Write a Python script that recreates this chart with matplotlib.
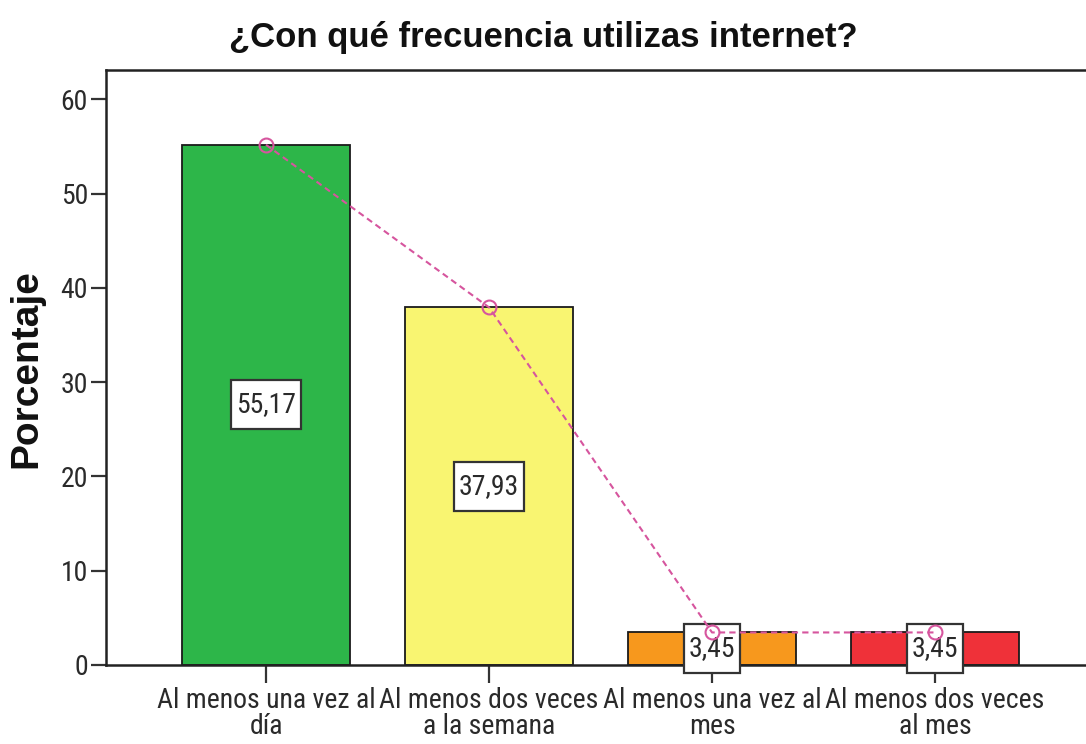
import matplotlib
matplotlib.use("Agg")
import matplotlib.pyplot as plt
from matplotlib import font_manager

categories = ["Al menos una vez al\ndía", "Al menos dos veces\na la semana",
              "Al menos una vez al\nmes", "Al menos dos veces\nal mes"]
values = [55.17, 37.93, 3.45, 3.45]
value_labels = ["55,17", "37,93", "3,45", "3,45"]
colors = ["#2db649", "#f9f571", "#f7981d", "#ef3139"]
yticks = [0, 10, 20, 30, 40, 50, 60]

avail = {f.name for f in font_manager.fontManager.ttflist}
narrow = [f for f in ["Liberation Sans Narrow", "Roboto Condensed", "DejaVu Sans Condensed", "Liberation Sans"] if f in avail] + ["DejaVu Sans"]
bold = [f for f in ["Liberation Sans", "Arial"] if f in avail] + ["DejaVu Sans"]

fig = plt.figure(figsize=(10.86, 7.44), dpi=100)
ax = fig.add_axes([0.0976, 0.1062, 0.9098, 0.7997])

x = list(range(len(categories)))
ax.bar(x, values, width=0.75, color=colors, edgecolor="#1a1a1a", linewidth=1.3, zorder=2)
ax.plot(x, values, linestyle=(0, (3, 2)), color="#d6559e", linewidth=1.5, zorder=4,
        marker="o", markersize=10, markerfacecolor="none", markeredgecolor="#d6559e",
        markeredgewidth=1.5)

for xi, v, lab in zip(x, values, value_labels):
    ax.text(xi, v / 2, lab, ha="center", va="center", fontsize=20, family=narrow,
            color="#2a2a2a", zorder=3,
            bbox=dict(boxstyle="square,pad=0.18", facecolor="white", edgecolor="#333333",
                      linewidth=1.6, mutation_aspect=2.2))

ax.set_xlim(-0.7175, 3.713)
ax.set_ylim(0, 63.1)
ax.set_yticks(yticks)
ax.set_yticklabels([str(t) for t in yticks], fontsize=20, family=narrow, color="#2a2a2a")
ax.set_xticks(x)
ax.set_xticklabels(categories, fontsize=20, family=narrow, color="#2a2a2a", linespacing=0.95)
ax.tick_params(axis="y", direction="out", length=11, width=1.6, pad=2, color="#333333")
ax.tick_params(axis="x", direction="out", length=13, width=1.6, pad=3, color="#333333")
for s in ["left", "bottom", "top"]:
    ax.spines[s].set_linewidth(1.8)
    ax.spines[s].set_color("#222222")
ax.spines["right"].set_visible(False)

fig.text(0.5, 0.949, "¿Con qué frecuencia utilizas internet?", ha="center", va="center",
         fontsize=25, fontweight="bold", family=bold, color="#111111")
fig.text(0.024, 0.504, "Porcentaje", ha="center", va="center", rotation=90,
         fontsize=28, fontweight="bold", family=bold, color="#111111")

fig.savefig("out.png", dpi=100, facecolor="white")
